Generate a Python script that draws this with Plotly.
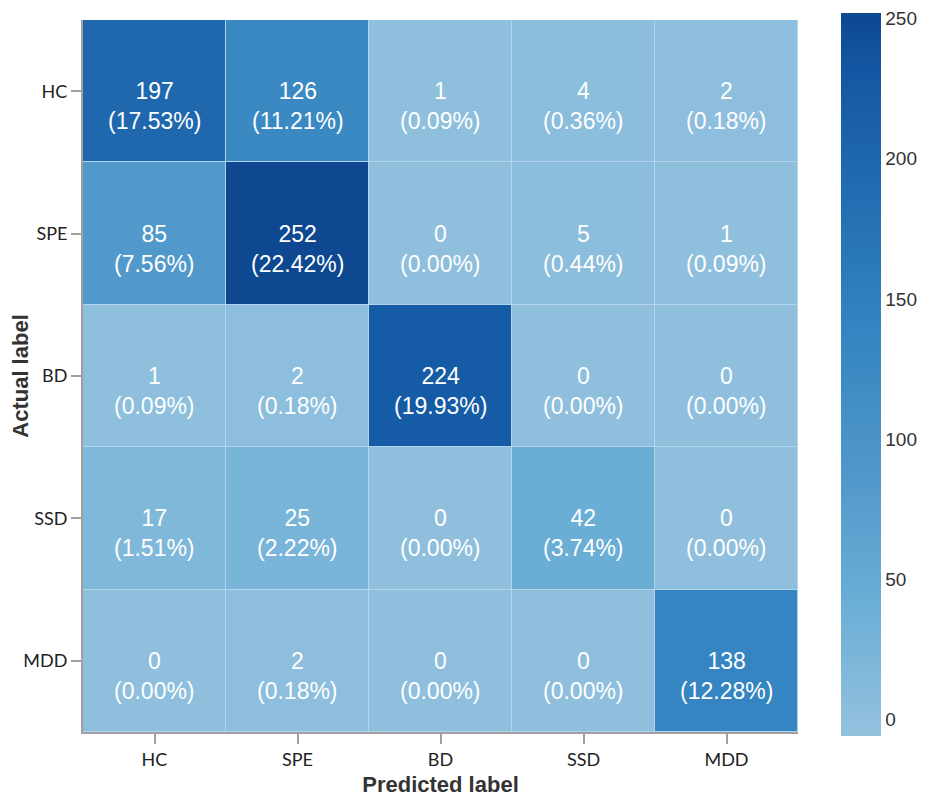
import plotly.graph_objects as go

labels = ["HC", "SPE", "BD", "SSD", "MDD"]
counts = [
    [197, 126, 1, 4, 2],
    [85, 252, 0, 5, 1],
    [1, 2, 224, 0, 0],
    [17, 25, 0, 42, 0],
    [0, 2, 0, 0, 138],
]
cbar_ticks = [0, 50, 100, 150, 200, 250]

total = sum(sum(r) for r in counts)
zmin, zmax = -6, 252
colorscale = [
    [0.0, "#91c3df"],
    [0.023, "#8fbfdd"],
    [0.186, "#6aaed6"],
    [0.353, "#5299cb"],
    [0.512, "#3b89c3"],
    [0.558, "#3485c1"],
    [0.787, "#1f68ae"],
    [0.92, "#1457a2"],
    [1.0, "#0d4890"],
]

fig = go.Figure(go.Heatmap(
    z=counts, x=labels, y=labels,
    colorscale=colorscale, zmin=zmin, zmax=zmax,
    xgap=1, ygap=1, hoverinfo="skip",
    colorbar=dict(
        thickness=40, lenmode="pixels", len=723,
        x=1.06, xanchor="left", xpad=0, y=0.502, yanchor="middle", ypad=0,
        outlinewidth=0, ticks="", tickvals=cbar_ticks,
        tickfont=dict(family="Liberation Sans", size=19, color="#333"),
        ticklabelposition="outside",
    ),
))

annotations = []
for i, row in enumerate(counts):
    for j, v in enumerate(row):
        annotations.append(dict(
            x=labels[j], y=labels[i], xref="x", yref="y",
            text=f"{v}<br>({100*v/total:.2f}%)", showarrow=False,
            yshift=-15, font=dict(family="Liberation Sans", size=23, color="white"),
        ))

fig.update_layout(
    width=921, height=793,
    margin=dict(l=75, r=131, t=12, b=69, autoexpand=False),
    paper_bgcolor="white", plot_bgcolor="#b3d4ea",
    annotations=annotations,
    xaxis=dict(
        showline=True, linecolor="#a0a0a0", linewidth=2, mirror=False,
        ticks="outside", ticklen=10, tickcolor="#a0a0a0", tickwidth=2,
        tickfont=dict(family="Lato", size=18, color="#222"),
        title=dict(text="<b>Predicted label</b>", font=dict(family="Liberation Sans", size=22, color="#333"), standoff=8),
        showgrid=False, zeroline=False, automargin=False,
    ),
    yaxis=dict(
        autorange="reversed",
        showline=True, linecolor="#a0a0a0", linewidth=2,
        ticks="outside", ticklen=10, tickcolor="#a0a0a0", tickwidth=2,
        tickfont=dict(family="Lato", size=18, color="#222"),
        title=dict(text="<b>Actual label</b>", font=dict(family="Liberation Sans", size=22, color="#333"), standoff=2),
        showgrid=False, zeroline=False, automargin=False,
    ),
)

fig.write_html("out.html")
